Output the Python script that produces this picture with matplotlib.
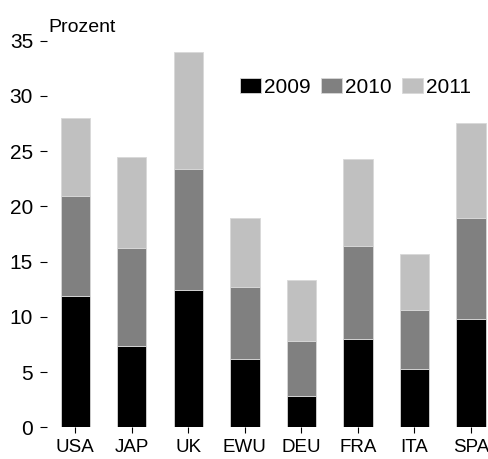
import numpy as np
import matplotlib
matplotlib.use('Agg')
import matplotlib.pyplot as plt
from matplotlib import font_manager

# Data
countries = ['USA', 'JAP', 'UK', 'EWU', 'DEU', 'FRA', 'ITA', 'SPA']
years = ['2009', '2010', '2011']
# per-year increments (stacked)
v2009 = [11.9, 7.4, 12.4, 6.15, 2.85, 8.0, 5.3, 9.8]
v2010 = [9.0, 8.8, 11.0, 6.55, 5.0, 8.4, 5.3, 9.1]
v2011 = [7.1, 8.3, 10.6, 6.2, 5.45, 7.9, 5.1, 8.6]
colors = ['#000000', '#808080', '#c0c0c0']

names = {f.name for f in font_manager.fontManager.ttflist}
fam = 'Liberation Sans Narrow' if 'Liberation Sans Narrow' in names else 'Liberation Sans'
plt.rcParams['font.family'] = [fam, 'DejaVu Sans']

fig = plt.figure(figsize=(4.89, 4.59), dpi=100)
ax = fig.add_axes([47/489, (459-427.3)/459, 1-47/489, (427.3-40.5)/459])

x = np.arange(len(countries))
bottom = np.zeros(len(countries))
for vals, yr, c in zip([v2009, v2010, v2011], years, colors):
    ax.bar(x, vals, width=0.52, bottom=bottom, color=c, label=yr,
           edgecolor='#d8d8d8', linewidth=0.6)
    bottom += np.array(vals)

ax.set_xlim(-0.5, 7.32)
ax.set_ylim(0, 35)
ax.set_yticks(range(0, 36, 5))
ax.set_xticks(x)
ax.set_xticklabels(countries)
for s in ax.spines.values():
    s.set_visible(False)
ax.tick_params(axis='y', length=5, width=0.8, pad=5, labelsize=15)
ax.tick_params(axis='x', length=4.5, width=0.8, pad=4, labelsize=13.5)

fig.text(48/489, 1-27/459, 'Prozent', fontsize=14, va='center', ha='left')

ax.legend(loc='upper left', bbox_to_anchor=(240/489, 1-78/459), bbox_transform=fig.transFigure,
          ncol=3, frameon=False, fontsize=15, handlelength=1.0, handleheight=0.72,
          handletextpad=0.15, columnspacing=0.5, borderaxespad=0, borderpad=0)

fig.savefig('out.png', dpi=100)
